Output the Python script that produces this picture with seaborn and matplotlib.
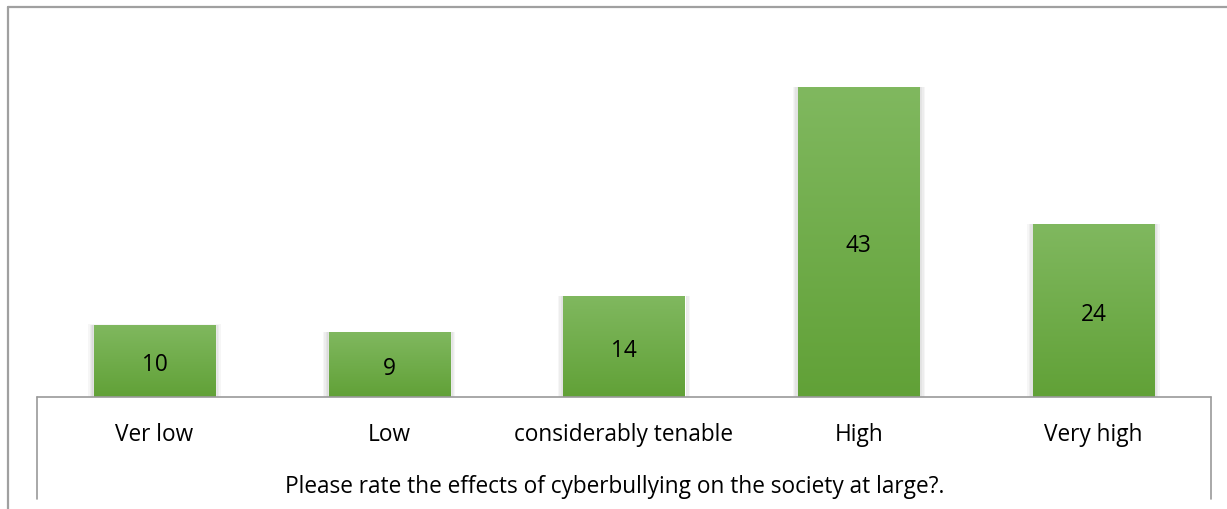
import numpy as np
import pandas as pd
import matplotlib
matplotlib.use("Agg")
import matplotlib.pyplot as plt
from matplotlib.patches import Rectangle
from matplotlib.lines import Line2D
import seaborn as sns

categories = ["Ver low", "Low", "considerably tenable", "High", "Very high"]
counts = [10, 9, 14, 43, 24]
axis_title = "Please rate the effects of cyberbullying on the society at large?."

df = pd.DataFrame({"rating": categories, "count": counts})

sns.set_theme(style="white")
plt.rcParams['font.family'] = ['Open Sans', 'DejaVu Sans']
fs = 16.3

fig = plt.figure(figsize=(12.27, 5.10), dpi=100)
ax = fig.add_axes([37 / 1227, 1 - 398 / 510, 1174 / 1227, 360 / 510])

sns.barplot(data=df, x="rating", y="count", color="#70ad47", width=0.516,
            saturation=1, ax=ax, zorder=3)

ax.set_xlim(-0.5, 4.5)
ax.set_ylim(0, 50)

# green gradient + soft shadow on each bar
grad = np.linspace(0, 1, 256).reshape(-1, 1)
cmap = matplotlib.colors.LinearSegmentedColormap.from_list(
    "g", ["#61a137", "#80b85f"])
for p in ax.patches:
    x0, w, h = p.get_x(), p.get_width(), p.get_height()
    for k in range(4):
        d = 0.006 * (k + 1)
        ax.add_patch(Rectangle((x0 - d, 0), w + 2 * d, h + d * 3,
                               color="black", alpha=0.035, lw=0, zorder=2))
    im = ax.imshow(grad, cmap=cmap, aspect="auto", origin="lower",
                   extent=[x0, x0 + w, 0, h], zorder=3.5)
    im.set_clip_path(p)
    ax.text(x0 + w / 2, h / 2, f"{int(h)}", ha="center",
            va="center_baseline", fontsize=fs, color="black", zorder=5)

ax.set_xlabel("")
ax.set_ylabel("")
ax.set_yticks([])
ax.set_xticks([])
for s in ax.spines.values():
    s.set_visible(False)

# category box below the plot
line_c = "#9a9a9a"
fig.add_artist(Line2D([37 / 1227, 1211 / 1227], [1 - 398 / 510] * 2,
                      color=line_c, lw=1.2))
fig.add_artist(Line2D([37 / 1227] * 2, [1 - 398 / 510, 1 - 500 / 510],
                      color=line_c, lw=1.2))
fig.add_artist(Line2D([1211 / 1227] * 2, [1 - 398 / 510, 1 - 500 / 510],
                      color=line_c, lw=1.2))
for i, c in enumerate(categories):
    xc = ax.transData.transform((i, 0))[0] / fig.bbox.width
    fig.text(xc, 1 - 435 / 510, c, ha="center", va="center", fontsize=fs,
             color="black")
fig.text(615 / 1227, 1 - 487 / 510, axis_title, ha="center", va="center",
         fontsize=fs, color="black")

# outer chart frame
fig.add_artist(Line2D([8 / 1227, 1], [1 - 8 / 510] * 2, color="#a0a0a0", lw=1.6))
fig.add_artist(Line2D([8 / 1227] * 2, [1 - 8 / 510, 0], color="#a0a0a0", lw=1.6))

fig.savefig("out.png", dpi=100)
